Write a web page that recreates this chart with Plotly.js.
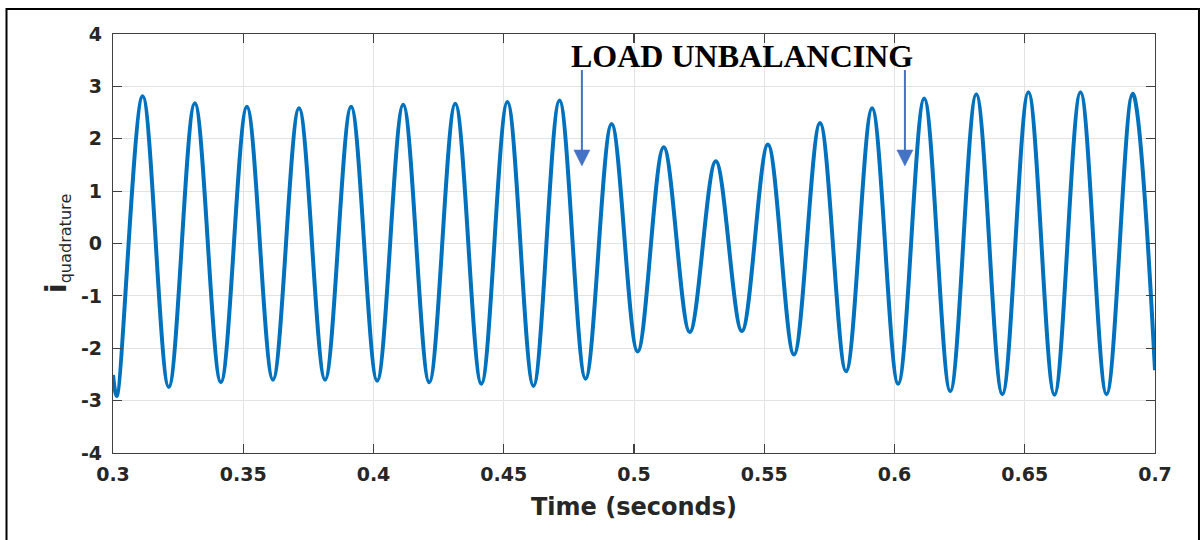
<!DOCTYPE html>
<html>
<head>
<meta charset="utf-8">
<script src="https://cdn.plot.ly/plotly-3.0.1.min.js"></script>
<style>
  html, body { margin: 0; padding: 0; background: #ffffff; }
  #chart { width: 1204px; height: 540px; }
</style>
</head>
<body>
<div id="chart"></div>
<script>
// ---- Data (time in seconds, current in p.u.) ----
const startTime = 0.3;
const startValue = -2.51;
const endTime = 0.7;
const endValue = -2.42;

// times of the successive minima (troughs)
const troughTimes = [0.3014, 0.3214, 0.3414, 0.3614, 0.3814, 0.4014, 0.4214, 0.4414, 0.4614, 0.4814,
                     0.5014, 0.5214, 0.5414, 0.5614, 0.5814, 0.6014, 0.6214, 0.6414, 0.6614, 0.6814];
const troughValues = [-2.91, -2.74, -2.65, -2.60, -2.60, -2.62, -2.65, -2.68, -2.72, -2.58,
                      -2.06, -1.69, -1.67, -2.12, -2.44, -2.68, -2.82, -2.88, -2.89, -2.88];

// times of the successive maxima (peaks)
const peakTimes = [0.3114, 0.3314, 0.3514, 0.3714, 0.3914, 0.4114, 0.4314, 0.4514, 0.4714, 0.4914,
                   0.5114, 0.5314, 0.5514, 0.5714, 0.5914, 0.6114, 0.6314, 0.6514, 0.6714, 0.6914];
const peakValues = [2.81, 2.68, 2.61, 2.58, 2.61, 2.65, 2.67, 2.70, 2.73, 2.28,
                    1.84, 1.57, 1.89, 2.30, 2.58, 2.77, 2.85, 2.89, 2.89, 2.86];

const xTickVals = [0.3, 0.35, 0.4, 0.45, 0.5, 0.55, 0.6, 0.65, 0.7];
const xTickText = ['0.3', '0.35', '0.4', '0.45', '0.5', '0.55', '0.6', '0.65', '0.7'];
const yTickVals = [-4, -3, -2, -1, 0, 1, 2, 3, 4];
const yTickText = ['-4', '-3', '-2', '-1', '0', '1', '2', '3', '4'];

const annotationText = 'LOAD UNBALANCING';
// arrow tips (in data units)
const arrowTipTimes = [0.48, 0.604];
const arrowTipValue = 1.48;

// ---- Assemble the series (alternating extrema, drawn with Plotly's spline) ----
const t = [startTime];
const v = [startValue];
for (let k = 0; k < troughTimes.length; k++) {
  t.push(troughTimes[k]); v.push(troughValues[k]);
  t.push(peakTimes[k]);   v.push(peakValues[k]);
}
t.push(endTime); v.push(endValue);

const trace = {
  x: t, y: v,
  type: 'scatter',
  mode: 'lines',
  line: { color: '#0072BD', width: 4, shape: 'spline', smoothing: 1 },
  hoverinfo: 'skip'
};

const tickFont = { family: 'DejaVu Sans', size: 19, color: '#262626', weight: 'bold' };
const axisCommon = {
  showline: true, linecolor: '#404040', linewidth: 1.2, mirror: 'ticks',
  ticks: 'inside', ticklen: 9, tickwidth: 1.2, tickcolor: '#404040',
  showgrid: true, gridcolor: '#e3e3e3', gridwidth: 1,
  zeroline: false, tickfont: tickFont, tickmode: 'array', fixedrange: true
};

// arrows drawn as shapes anchored at the tip, sized in pixels
const arrowShapes = [];
arrowTipTimes.forEach(function (tx) {
  arrowShapes.push({
    type: 'path', xref: 'x', yref: 'y', xsizemode: 'pixel', ysizemode: 'pixel',
    xanchor: tx, yanchor: arrowTipValue,
    path: 'M0,14 L0,96',
    line: { color: '#4472C4', width: 2 }, layer: 'above'
  });
  arrowShapes.push({
    type: 'path', xref: 'x', yref: 'y', xsizemode: 'pixel', ysizemode: 'pixel',
    xanchor: tx, yanchor: arrowTipValue,
    path: 'M0,0 L-8,16 L8,16 Z',
    fillcolor: '#4472C4', line: { color: '#4472C4', width: 0.5 }, layer: 'above'
  });
});

const layout = {
  width: 1204, height: 540,
  margin: { l: 113, r: 49, t: 34, b: 87, pad: 0 },
  paper_bgcolor: '#ffffff', plot_bgcolor: '#ffffff',
  showlegend: false,
  xaxis: Object.assign({}, axisCommon, {
    range: [0.3, 0.7],
    tickvals: xTickVals, ticktext: xTickText,
    ticklabelstandoff: 4,
    title: { text: 'Time (seconds)', font: { family: 'DejaVu Sans', size: 24, color: '#262626', weight: 'bold' }, standoff: 14 }
  }),
  yaxis: Object.assign({}, axisCommon, {
    range: [-4, 4],
    tickvals: yTickVals, ticktext: yTickText,
    ticklabelstandoff: 6,
    title: {
      text: '<b><span style="font-size:29px">i</span></b><sub>quadrature</sub>',
      font: { family: 'DejaVu Sans', size: 23, color: '#262626' },
      standoff: 7
    }
  }),
  annotations: [
    {
      xref: 'x', yref: 'y', x: 0.5414, y: 3.575, showarrow: false,
      text: annotationText,
      font: { family: 'Liberation Serif', size: 32, color: '#000000', weight: 'bold' }
    }
  ],
  shapes: arrowShapes.concat([
    {
      type: 'rect', xref: 'paper', yref: 'paper',
      x0: -0.1022, x1: 1.0422, y0: -0.23, y1: 1.0597,
      line: { color: '#000000', width: 2 }, fillcolor: 'rgba(0,0,0,0)', layer: 'above'
    }
  ])
};

Plotly.newPlot('chart', [trace], layout, { displayModeBar: false, staticPlot: true });
</script>
</body>
</html>
